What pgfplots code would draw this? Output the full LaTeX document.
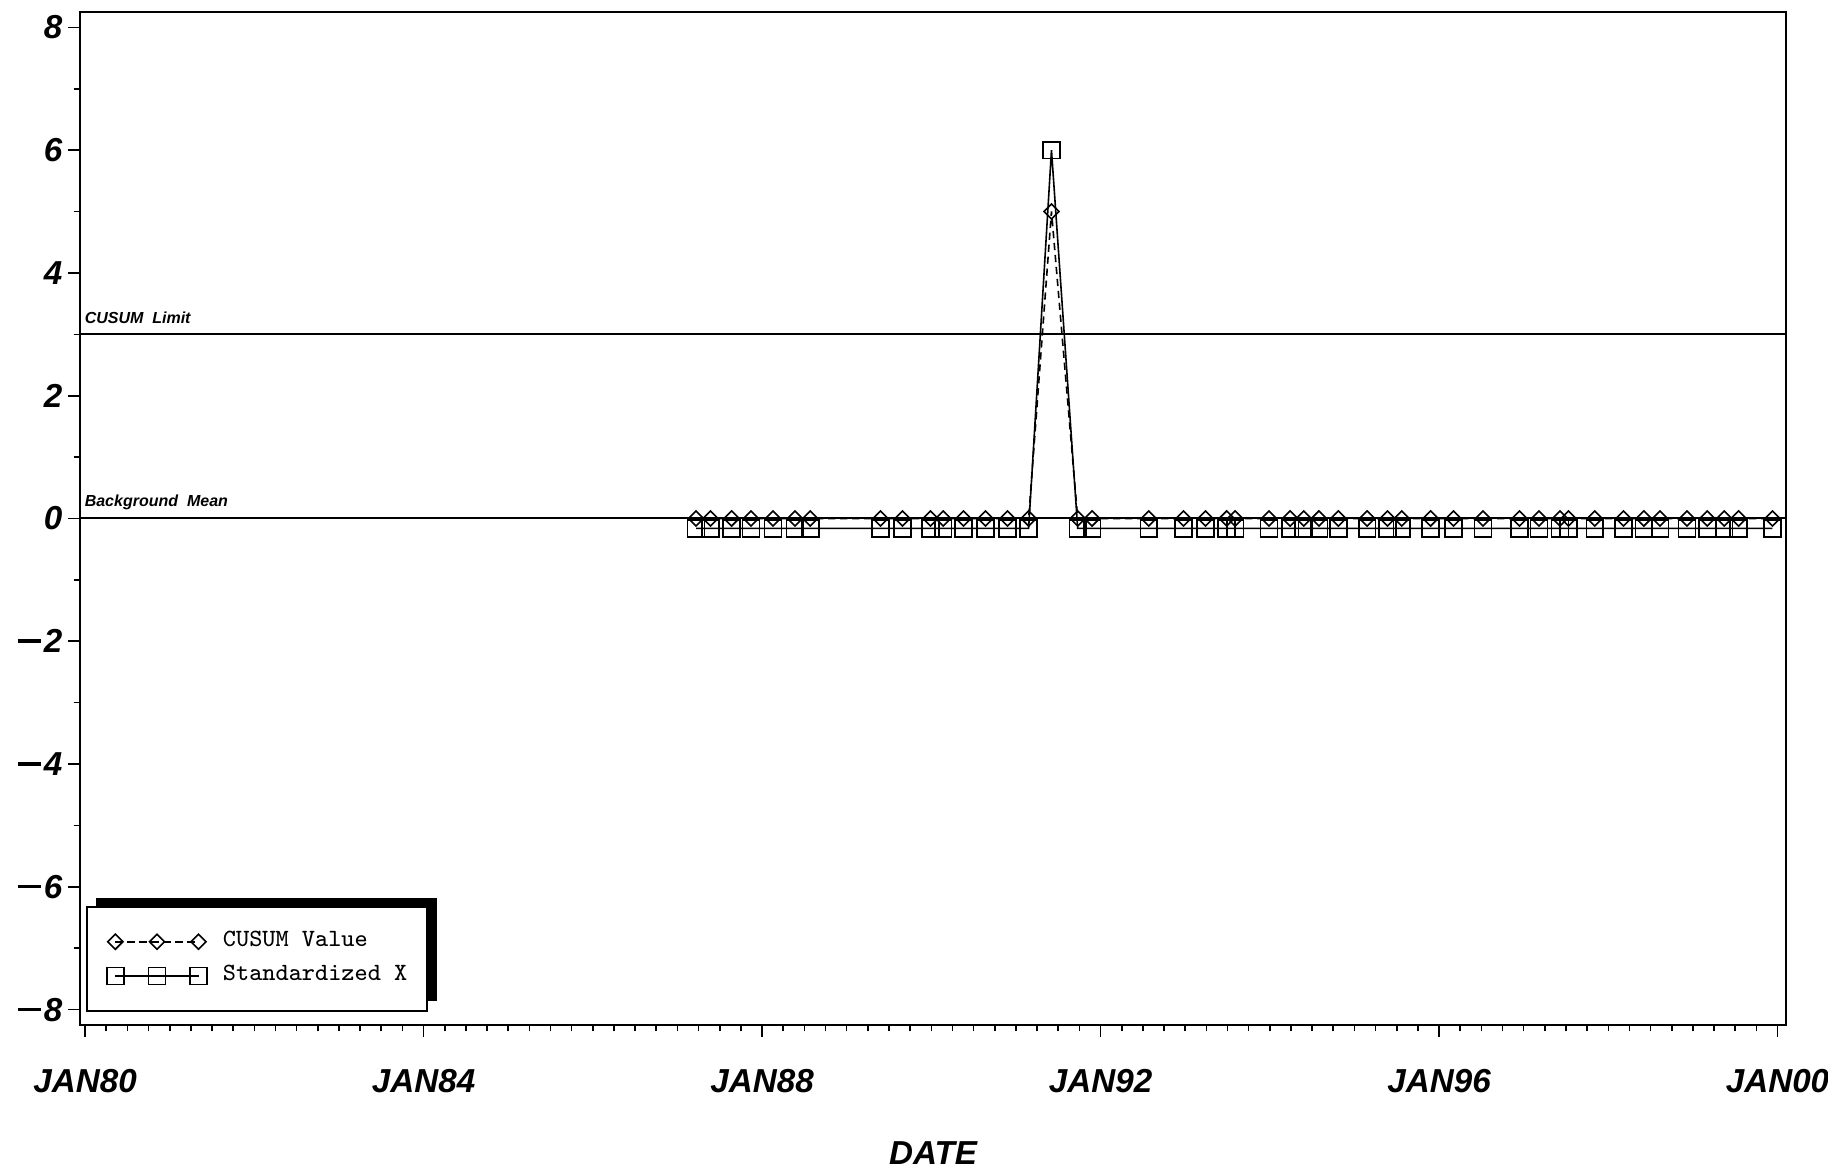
\documentclass[border=0pt]{standalone}
\usepackage{pgfplots}
\usepackage{pgfplotstable}
\pgfplotsset{compat=1.18}
\usepackage{fontspec}
\setmainfont{Liberation Sans}
\usetikzlibrary{shadows}

\makeatletter
\tikzset{nopre/.code={\let\tikz@preactions\pgfutil@empty\let\tikz@postactions\pgfutil@empty}}
\makeatother

\newcommand{\tickfont}{\fontsize{8.3}{9.6}\selectfont\bfseries\itshape}
\newcommand{\reffont}{\fontsize{4.0}{5}\selectfont\bfseries\itshape}
\newcommand{\legfont}{\fontsize{6.2}{7.4}\selectfont\ttfamily}
\newcommand{\mn}{\rule[2.5pt]{5.9pt}{0.85pt}\hspace{0.7pt}}

\pgfplotstableread{
x cusum stdx
7.22 0 -0.16
7.39 0 -0.16
7.64 0 -0.16
7.87 0 -0.16
8.13 0 -0.16
8.39 0 -0.16
8.57 0 -0.16
9.40 0 -0.16
9.66 0 -0.16
9.99 0 -0.16
10.14 0 -0.16
10.38 0 -0.16
10.64 0 -0.16
10.90 0 -0.16
11.15 0 -0.16
11.42 5.0 6.0
11.73 0 -0.16
11.90 0 -0.16
12.57 0 -0.16
12.98 0 -0.16
13.24 0 -0.16
13.49 0 -0.16
13.59 0 -0.16
13.99 0 -0.16
14.24 0 -0.16
14.40 0 -0.16
14.58 0 -0.16
14.81 0 -0.16
15.15 0 -0.16
15.39 0 -0.16
15.56 0 -0.16
15.90 0 -0.16
16.17 0 -0.16
16.52 0 -0.16
16.95 0 -0.16
17.18 0 -0.16
17.43 0 -0.16
17.53 0 -0.16
17.84 0 -0.16
18.18 0 -0.16
18.42 0 -0.16
18.61 0 -0.16
18.93 0 -0.16
19.17 0 -0.16
19.37 0 -0.16
19.54 0 -0.16
19.94 0 -0.16
}\data

\begin{document}
\begin{tikzpicture}
\begin{axis}[
  scale only axis, width=426.5pt, height=253.25pt,
  xmin=-0.06, xmax=20.1, ymin=-8.25, ymax=8.25,
  axis line style={line width=0.5pt},
  tick align=outside, xtick pos=left, ytick pos=left,
  xtick={0,4,8,12,16,20},
  xticklabels={JAN80,JAN84,JAN88,JAN92,JAN96,JAN00},
  minor x tick num=15,
  ytick={-8,-6,-4,-2,0,2,4,6,8},
  yticklabels={\mn8,\mn6,\mn4,\mn2,0,2,4,6,8},
  minor y tick num=1,
  major tick length=3pt, minor tick length=1.6pt,
  tick style={black, line width=0.4pt},
  xticklabel style={font=\tickfont, anchor=north, inner sep=0pt, yshift=-7.8pt},
  yticklabel style={font=\tickfont, anchor=east, inner sep=0pt, xshift=-1.2pt},
  xlabel={DATE},
  xlabel style={font=\tickfont, at={(axis description cs:0.5,0)}, anchor=north, inner sep=0pt, yshift=-29pt},
  legend cell align=left,
  legend style={at={(axis description cs:0.0035,0.0132)}, anchor=south west,
    draw=black, line width=0.5pt, fill=white,
    inner xsep=5pt, inner ysep=6pt, row sep=3.2pt, column sep=4pt,
    font=\legfont, nodes={inner sep=0pt},
    drop shadow={shadow xshift=2.3pt, shadow yshift=2.3pt, fill=black, opacity=1}},
  legend image code/.code={%
    \draw[nopre, #1, mark=none] (0pt,0pt) -- (20.8pt,0pt);
    \path[nopre, #1, mark repeat=1, mark phase=1] plot coordinates {(0pt,0pt) (10.4pt,0pt) (20.8pt,0pt)};},
]
\addplot[black, line width=0.5pt, forget plot] coordinates {(-0.06,3) (20.1,3)};
\addplot[black, line width=0.5pt, forget plot] coordinates {(-0.06,0) (20.1,0)};

\addplot[black, line width=0.4pt, dash pattern=on 1.8pt off 1.2pt,
  mark=square, mark size=1.33pt, mark options={solid, rotate=45, line width=0.4pt}]
  table[x=x, y=cusum]{\data};
\addlegendentry{CUSUM Value}
\addplot[black, line width=0.4pt, mark=square, mark size=2.1pt,
  mark options={solid, line width=0.4pt}]
  table[x=x, y=stdx]{\data};
\addlegendentry{Standardized X\hspace{1.7pt}}

\node[anchor=base west, inner sep=0pt, font=\reffont] at (axis cs:-0.06,3) [xshift=1pt, yshift=2.8pt] {CUSUM\ \ Limit};
\node[anchor=base west, inner sep=0pt, font=\reffont] at (axis cs:-0.06,0) [xshift=1pt, yshift=3.1pt] {Background\ \ Mean};
\end{axis}
\pgfresetboundingbox
\path[use as bounding box] ([xshift=-20pt,yshift=-36.25pt]current axis.south west) rectangle ([xshift=10.5pt,yshift=3pt]current axis.north east);
\end{tikzpicture}
\end{document}
